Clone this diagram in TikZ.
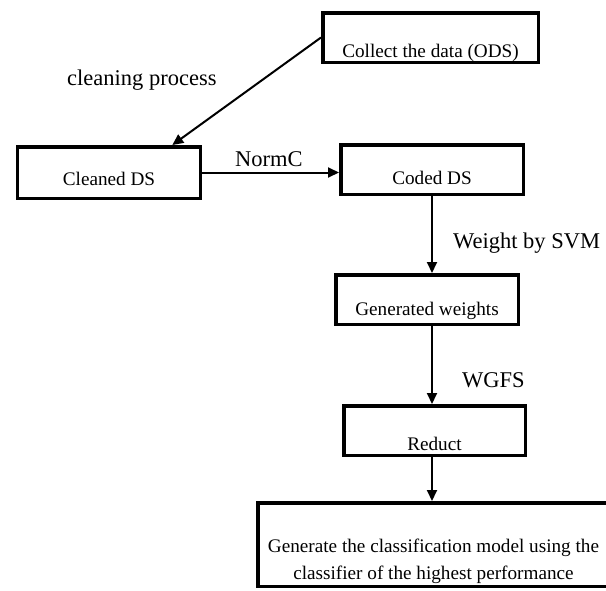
\documentclass[tikz,border=0pt]{standalone}
\usepackage{fontspec}
\setmainfont{Liberation Serif}
\usetikzlibrary{arrows.meta,calc}
\begin{document}
\begin{tikzpicture}[x=1pt,y=-1pt,
  box/.style={draw=black, line width=3.5pt, rectangle, inner sep=0pt,
    font=\fontsize{19.2}{25}\selectfont, text depth=0pt},
  lbl/.style={inner sep=0pt, anchor=base west, font=\fontsize{22.5}{27}\selectfont},
  flow/.style={draw=black, line width=2pt, -{Triangle[length=11pt,width=10pt]}}]
\useasboundingbox (0,0) rectangle (606,590);
\clip (0,0) rectangle (606,590);
\node[box, minimum width=215.5pt, minimum height=49.5pt, text height=39pt] (collect) at (430.5,37.5) {Collect the data (ODS)};
\node[box, minimum width=182.8pt, minimum height=51.5pt, text height=25pt] (cleaned) at (109,172.5) {Cleaned DS};
\node[box, minimum width=182.5pt, minimum height=49.5pt, text height=29pt] (coded) at (432,169.5) {Coded DS};
\node[box, minimum width=182.5pt, minimum height=49.5pt, text height=31pt] (gen) at (427,299.5) {Generated weights};
\node[box, minimum width=181.5pt, minimum height=49.5pt, text height=39pt] (reduct) at (434.5,430.5) {Reduct};
\node[box, minimum width=362.25pt, minimum height=83.5pt] (big) at (438.9,544.5) {};
\node[inner sep=0pt, align=center, font=\fontsize{19.2}{27}\selectfont] (bigtext) at (433.5,561)
  {Generate the classification model using the\\classifier of the highest performance};
\coordinate (ax) at (432,0);
\draw[flow] (collect.west) -- ($(cleaned.north west)!0.84!(cleaned.north east)$);
\draw[flow] (cleaned.east) -- (cleaned.east -| coded.west);
\draw[flow] (coded.south -| ax) -- (gen.north -| ax);
\draw[flow] (gen.south -| ax) -- (reduct.north -| ax);
\draw[flow] (reduct.south -| ax) -- (big.north -| ax);
\node[lbl] (lclean) at (67,85) {cleaning process};
\node[lbl] (lnorm) at (235,166) {NormC};
\node[lbl] (lsvm) at (453,248) {Weight by SVM};
\node[lbl] (lwgfs) at (462,387) {WGFS};
\end{tikzpicture}
\end{document}
